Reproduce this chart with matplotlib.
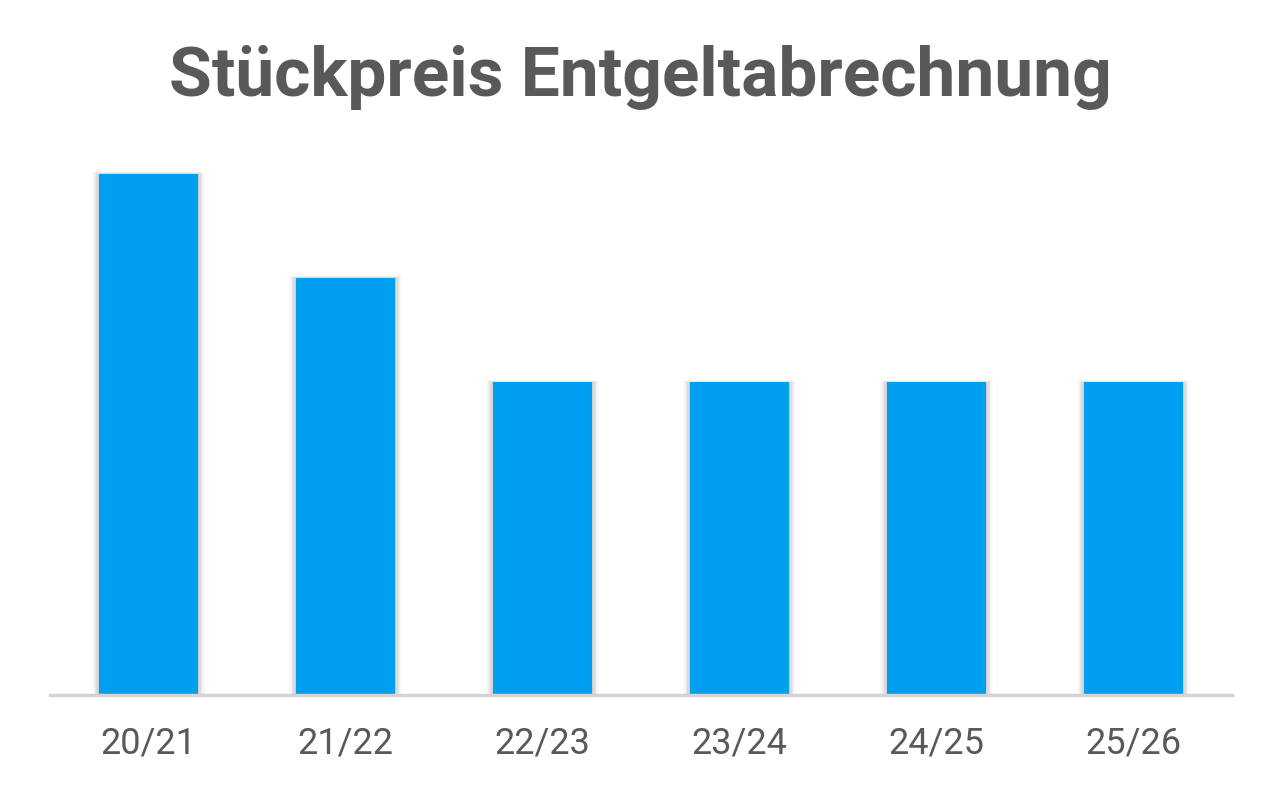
import matplotlib.pyplot as plt
import numpy as np

jahre = ["20/21", "21/22", "22/23", "23/24", "24/25", "25/26"]
preis = [5, 4, 3, 3, 3, 3]

blau = "#009FEF"
grau = "#595959"

fig = plt.figure(figsize=(12.8, 7.92), dpi=100)
ax = fig.add_axes([50/1280, 1 - 695/792, 1182/1280, 545/792])

x = np.arange(len(jahre))

# weicher Schatten hinter den Balken
for i, a in enumerate([0.025, 0.03, 0.04, 0.05, 0.06]):
    grow = 0.014 * (5 - i)
    ax.bar(x, np.array(preis) + grow * 0.3, width=0.5 + grow, color="black",
           alpha=a, linewidth=0, zorder=1)

ax.bar(x, preis, width=0.5, color=blau, linewidth=0, zorder=3)

ax.set_xlim(-0.5, len(jahre) - 0.5)
ax.set_ylim(0, 545 / 104.2)
ax.set_xticks(x)
ax.set_xticklabels(jahre, fontsize=26, color=grau, family="Roboto")
ax.tick_params(axis="x", length=0, pad=22)
ax.set_yticks([])
for s in ["top", "right", "left"]:
    ax.spines[s].set_visible(False)
ax.spines["bottom"].set_color("#D4D4D4")
ax.spines["bottom"].set_linewidth(2.5)
ax.spines["bottom"].set_zorder(4)

fig.text(0.5, 1 - 78/792, "Stückpreis Entgeltabrechnung", ha="center", va="center",
         fontsize=50, fontweight="bold", color=grau, family="Roboto")

fig.savefig("out.png", dpi=100, facecolor="white")
